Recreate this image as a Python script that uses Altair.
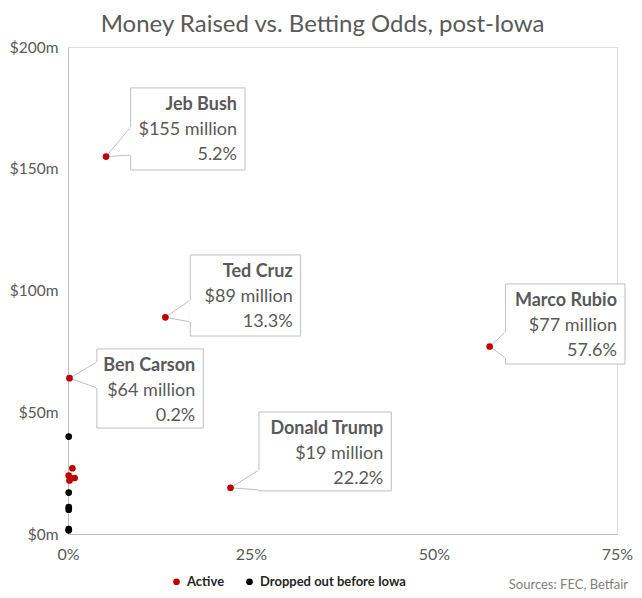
import altair as alt
import pandas as pd

# --- data ---
odds = [5.2, 13.3, 57.6, 0.2, 22.2, 0.6, 0.1, 0.9, 0.2, 0.1, 0.1, 0.1, 0.1, 0.1, 0.1]
money = [155, 89, 77, 64, 19, 27, 24, 23, 22, 40, 17, 11, 10, 2, 1.5]
status = ["Active"] * 9 + ["Dropped out before Iowa"] * 6

call_names = ["Jeb Bush", "Ted Cruz", "Marco Rubio", "Ben Carson", "Donald Trump"]
call_money = ["$155 million", "$89 million", "$77 million", "$64 million", "$19 million"]
call_pct = ["5.2%", "13.3%", "57.6%", "0.2%", "22.2%"]
call_px = [5.2, 13.3, 57.6, 0.2, 22.2]
call_py = [155, 89, 77, 64, 19]
# callout box bounds (data units)
box_x1 = [8.56, 16.71, 59.78, 3.94, 26.09]
box_x2 = [24.18, 31.79, 76.09, 18.48, 44.16]
box_top = [183.2, 114.6, 102.7, 76.0, 50.1]
box_bot = [149.5, 81.3, 69.8, 43.5, 17.7]
wedge_y1 = [167.1, 96.1, 83.0, 70.6, 26.3]
wedge_y2 = [155.6, 87.1, 72.3, 60.0, 18.1]

x_ticks = [0, 25, 50, 75]
y_ticks = [0, 50, 100, 150, 200]

pts = pd.DataFrame({"odds": odds, "money": money, "status": status})
calls = pd.DataFrame({
    "name": call_names, "mon": call_money, "pct": call_pct,
    "px": call_px, "py": call_py,
    "x1": box_x1, "x2": box_x2, "top": box_top, "bot": box_bot,
    "wy1": wedge_y1, "wy2": wedge_y2,
})

FONT = "Lato"
GRAY = "#595959"
LINE = "#bfbfbf"

xs = alt.Scale(domain=[0, 75], nice=False, zero=False)
ys = alt.Scale(domain=[0, 200], nice=False)

base_pts = alt.Chart(pts).mark_circle(size=45, opacity=1).encode(
    x=alt.X("odds:Q", scale=xs, title=None,
            axis=alt.Axis(values=x_ticks, labelExpr="datum.value + '%'", grid=False,
                          ticks=False, domainColor=LINE, labelColor=GRAY, labelFontSize=16,
                          labelFont=FONT, labelPadding=12, labelFlush=False)),
    y=alt.Y("money:Q", scale=ys, title=None,
            axis=alt.Axis(values=y_ticks, labelExpr="'$' + datum.value + 'm'", grid=False,
                          ticks=False, domainColor=LINE, labelColor=GRAY, labelFontSize=15.5,
                          labelFont=FONT, labelPadding=10, labelFlush=False)),
    color=alt.Color("status:N",
                    scale=alt.Scale(domain=["Active", "Dropped out before Iowa"],
                                    range=["#c00000", "#000000"]),
                    legend=alt.Legend(title=None, orient="none", direction="horizontal",
                                      legendX=102, legendY=528, symbolType="circle",
                                      symbolSize=45, labelFont=FONT, labelFontSize=13,
                                      labelFontWeight="bold", labelColor="#262626",
                                      columnPadding=18, symbolOffset=0)),
)

cb = alt.Chart(calls)
boxes = cb.mark_rect(fill="white", stroke=LINE, strokeWidth=1).encode(
    x=alt.X("x1:Q", scale=xs), x2="x2:Q", y=alt.Y("top:Q", scale=ys), y2="bot:Q")
gap = cb.mark_rule(color="white", strokeWidth=2).encode(
    x=alt.X("x1:Q", scale=xs), y=alt.Y("wy1:Q", scale=ys), y2="wy2:Q")
w1 = cb.mark_rule(color=LINE, strokeWidth=1).encode(
    x=alt.X("px:Q", scale=xs), y=alt.Y("py:Q", scale=ys), x2="x1:Q", y2="wy1:Q")
w2 = cb.mark_rule(color=LINE, strokeWidth=1).encode(
    x=alt.X("px:Q", scale=xs), y=alt.Y("py:Q", scale=ys), x2="x1:Q", y2="wy2:Q")

def txt(field, dy, weight):
    return cb.mark_text(align="right", baseline="middle", dx=-8, dy=dy, font=FONT,
                        fontSize=18, fontWeight=weight, color=GRAY).encode(
        x=alt.X("x2:Q", scale=xs), y=alt.Y("top:Q", scale=ys), text=f"{field}:N")

t1 = txt("name", 17, "bold")
t2 = txt("mon", 42, "normal")
t3 = txt("pct", 67, "normal")

src = alt.Chart(pd.DataFrame({"s": ["Sources: FEC, Betfair"]})).mark_text(
    align="right", baseline="middle", font=FONT, fontSize=13, color="#7f7f7f").encode(
    x=alt.value(560), y=alt.value(538), text="s:N")

chart = alt.layer(w1, w2, boxes, gap, t1, t2, t3, base_pts, src).properties(
    width=549, height=487,
    autosize=alt.AutoSizeParams(type="none"),
    padding={"left": 60, "top": 39, "right": 17, "bottom": 62},
    title=alt.Title("Money Raised vs. Betting Odds, post-Iowa", font=FONT, fontSize=24,
                    fontWeight="normal", color=GRAY, anchor="middle", dx=-20, offset=3),
).configure_view(stroke=None).configure(background="white")

chart.save("out.html", embed_options={"renderer": "svg", "actions": False})
